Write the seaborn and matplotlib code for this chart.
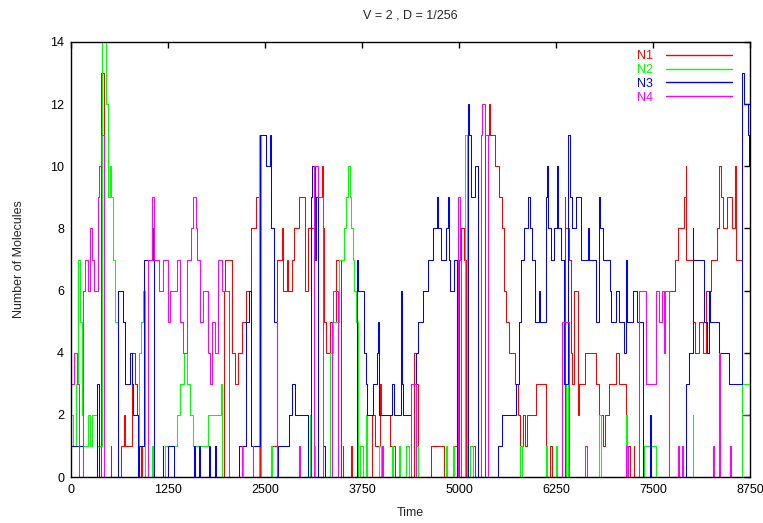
import matplotlib
matplotlib.use("Agg")
import matplotlib.pyplot as plt
from matplotlib.lines import Line2D
import seaborn as sns
import pandas as pd

# ---- data: (time, molecule count) step breakpoints ----
n1_steps = [(0,0),(390,13),(420,0),(510,1),(520,0),(640,1),(680,2),(700,1),(790,4),(830,3),(850,2),(870,0),(900,1),(920,0),
    (1975,6),(1990,7),(2070,4),(2110,3),(2150,4),(2210,5),(2255,6),(2320,8),(2385,9),(2420,10),(2440,0),(2580,1),(2660,7),
    (2725,8),(2735,6),(2780,7),(2800,6),(2850,7),(2880,8),(2940,9),(3010,6),(3060,8),(3160,9),(3230,10),(3245,8),(3260,5),
    (3290,4),(3340,5),(3420,7),(3480,0),(3500,1),(3510,0),(3610,1),(3620,0),(3880,2),(3920,1),(3980,3),(4000,2),(4110,1),
    (4180,0),(4420,4),(4450,3),(4470,0),(4640,1),(4810,0),(4940,1),(4990,0),(5000,7),(5020,8),(5060,7),(5090,0),(5140,1),
    (5200,0),(5340,11),(5390,12),(5400,11),(5460,10),(5520,9),(5560,8),(5580,6),(5610,5),(5640,4),(5720,3),(5760,2),(5790,1),
    (5820,2),(5850,1),(5880,2),(5990,3),(6120,0),(6170,1),(6200,0),(6360,9),(6370,8),(6420,7),(6440,4),(6460,3),(6480,6),
    (6530,2),(6550,3),(6620,4),(6760,3),(6800,2),(6850,1),(6880,2),(6930,3),(7020,4),(7060,3),(7150,1),(7200,0),(7250,1),
    (7260,0),(7710,6),(7780,7),(7820,8),(7900,9),(7920,10),(7930,7),(8010,5),(8040,4),(8090,5),(8140,4),(8180,6),(8250,7),
    (8330,8),(8355,10),(8370,9),(8400,8),(8460,9),(8520,8),(8560,10),(8575,7),(8650,2),(8750,2)]

n2_steps = [(0,2),(30,1),(60,3),(85,7),(110,5),(140,2),(160,1),(220,2),(245,1),(270,2),(330,1),(400,14),(455,12),(480,9),
    (500,10),(520,9),(545,7),(565,5),(600,0),(870,4),(900,5),(930,6),(960,0),(1050,1),(1060,0),(1210,1),(1370,2),(1410,3),
    (1450,4),(1490,5),(1500,3),(1530,2),(1570,1),(1760,2),(1930,3),(1950,0),(2200,1),(2215,0),(2420,11),(2450,0),(2575,1),
    (2590,0),(3080,2),(3090,0),(3130,1),(3145,0),(3340,4),(3380,5),(3460,7),(3520,8),(3545,9),(3565,10),(3590,9),(3610,8),
    (3630,7),(3650,6),(3670,5),(3700,0),(3730,1),(3760,0),(3800,2),(3810,0),(3975,1),(3990,0),(4140,1),(4150,0),(4230,1),
    (4240,0),(4320,1),(4360,0),(4450,1),(4470,0),(4830,1),(4840,0),(4920,1),(4940,0),(5080,11),(5100,0),(5140,1),(5180,0),
    (5790,1),(5810,0),(6120,1),(6130,0),(6250,1),(6260,0),(6380,3),(6400,0),(6810,2),(6830,0),(7150,2),(7170,0),(7390,1),
    (7540,0),(8010,2),(8020,0),(8650,3),(8750,3)]

n3_steps = [(0,1),(150,0),(340,3),(360,0),(600,6),(665,5),(690,4),(700,3),(760,4),(790,3),(805,2),(860,0),(880,1),(940,7),
    (1040,8),(1060,7),(1065,0),(1180,1),(1190,0),(1245,1),(1330,0),(1590,1),(1600,0),(1650,1),(1660,0),(1780,1),(1790,0),
    (1860,1),(1870,0),(2170,1),(2250,5),(2300,6),(2320,1),(2440,11),(2510,10),(2570,11),(2580,8),(2620,5),(2660,0),(2670,1),
    (2810,2),(2850,3),(2890,2),(3050,0),(3090,9),(3110,10),(3150,7),(3160,9),(3180,0),(3250,1),(3270,0),(3690,7),(3700,6),
    (3780,4),(3800,3),(3820,2),(3890,3),(3940,4),(3960,5),(3970,2),(4140,3),(4160,2),(4250,6),(4260,3),(4280,2),(4380,3),
    (4440,4),(4470,5),(4530,6),(4600,7),(4660,8),(4720,9),(4730,8),(4770,7),(4830,8),(4860,9),(4870,7),(4890,6),(4940,7),
    (4980,0),(5110,12),(5135,11),(5160,9),(5200,10),(5240,0),(5500,1),(5560,2),(5730,3),(5770,5),(5800,7),(5840,8),(5890,9),
    (5920,8),(5940,7),(5980,5),(6030,6),(6050,5),(6120,9),(6140,10),(6150,8),(6190,7),(6220,8),(6260,10),(6275,8),(6310,7),
    (6350,3),(6410,11),(6425,9),(6460,8),(6508,9),(6570,7),(6660,8),(6680,7),(6770,5),(6810,9),(6820,8),(6850,7),(6940,6),
    (6960,5),(7020,6),(7060,5),(7130,4),(7150,7),(7160,5),(7240,6),(7300,5),(7370,0),(7460,2),(7480,0),(7920,3),(7970,4),
    (8010,8),(8020,7),(8160,5),(8190,4),(8220,6),(8230,5),(8350,4),(8480,3),(8650,13),(8670,12),(8720,11),(8740,10),(8750,10)]

n4_steps = [(0,3),(40,4),(80,3),(100,0),(150,6),(185,7),(220,6),(240,8),(270,7),(290,6),(345,9),(365,10),(390,11),(420,0),
    (990,7),(1050,9),(1065,7),(1140,6),(1180,7),(1245,5),(1280,6),(1360,7),(1400,5),(1440,4),(1500,7),(1550,8),(1575,9),
    (1610,8),(1630,7),(1660,5),(1700,6),(1760,4),(1790,3),(1820,5),(1850,4),(1900,7),(1950,6),(2030,0),(2200,1),(2210,0),
    (2340,1),(2350,0),(2650,5),(2660,0),(2940,1),(2950,0),(3130,10),(3180,9),(3250,0),(3360,5),(3370,6),(3440,0),(4010,1),
    (4020,0),(4380,3),(4450,0),(4990,9),(5010,7),(5030,0),(5280,11),(5300,12),(5330,11),(5370,0),(6330,5),(6420,0),(6630,1),
    (6645,0),(7150,1),(7180,0),(7320,6),(7410,3),(7540,6),(7580,5),(7620,6),(7640,4),(7660,6),(7710,0),(7820,1),(7830,0),
    (7880,1),(7890,0),(8270,1),(8290,0),(8355,4),(8365,0),(8490,1),(8510,0),(8750,0)]

series_names = ["N1", "N2", "N3", "N4"]
series_colors = ["#ff0000", "#00ff00", "#0000ff", "#ff00ff"]
x_ticks = [0, 1250, 2500, 3750, 5000, 6250, 7500, 8750]
y_ticks = [0, 2, 4, 6, 8, 10, 12, 14]
title = "V = 2 , D = 1/256"

rows = []
for name, steps in zip(series_names, [n1_steps, n2_steps, n3_steps, n4_steps]):
    for t, v in steps:
        rows.append({"Time": t, "Count": v, "Series": name})
df = pd.DataFrame(rows)

sns.set_theme(style="white")
plt.rcParams["font.family"] = ["Liberation Sans", "DejaVu Sans"]

fig = plt.figure(figsize=(7.63, 5.23), dpi=100)
ax = fig.add_axes([71/763, 1 - 477/523, (750 - 71)/763, (477 - 42)/523])

palette = dict(zip(series_names, series_colors))
sns.lineplot(data=df, x="Time", y="Count", hue="Series", hue_order=series_names,
             palette=palette, estimator=None, sort=False, drawstyle="steps-post",
             linewidth=0.75, legend=False, ax=ax)

ax.set_xlim(0, 8750)
ax.set_ylim(0, 14)
ax.set_xticks(x_ticks)
ax.set_xticklabels([str(v) for v in x_ticks])
ax.set_yticks(y_ticks)
ax.set_yticklabels([str(v) for v in y_ticks])
ax.tick_params(direction="in", length=4, width=1, top=True, right=True,
               labelsize=9, colors="black", pad=5)
for s in ax.spines.values():
    s.set_color("black")
    s.set_linewidth(1)
ax.set_xlabel("Time", fontsize=9, labelpad=8)
ax.set_ylabel("Number of Molecules", fontsize=9, labelpad=18)
ax.set_title(title, fontsize=9, pad=17)
ax.grid(False)

handles = [Line2D([0], [0], color=c, lw=1) for c in series_colors]
leg = ax.legend(handles, series_names, loc="upper right", frameon=False,
                markerfirst=False, handlelength=5.3, handletextpad=1.0,
                labelspacing=0.15, fontsize=9, borderaxespad=0,
                bbox_to_anchor=(1 - 13/679, 1 - 3/435), labelcolor="linecolor")

fig.savefig("out.png", dpi=100)
